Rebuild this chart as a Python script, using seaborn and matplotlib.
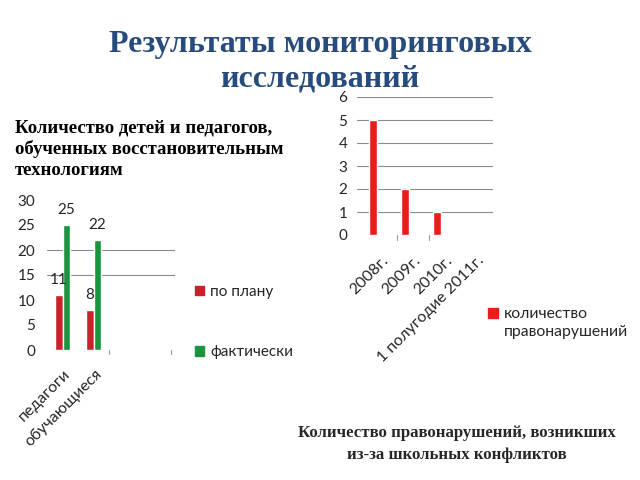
import pandas as pd
import matplotlib.pyplot as plt
import matplotlib.transforms as mtransforms
from matplotlib.patches import Patch
import seaborn as sns

# data
groups = ["педагоги", "обучающиеся"]
plan = [11, 8]
fact = [25, 22]
series_names = ["по плану", "фактически"]

years = ["2008г.", "2009г.", "2010г.", "1 полугодие 2011г."]
offences = [5, 2, 1, 0]
offence_label = "количество\nправонарушений"

red_left = "#C8232A"
green_left = "#1B9440"
red_right = "#EE1B1B"
grid_c = "#8C8C8C"

sns.set_theme(style="white")
plt.rcParams["font.family"] = ["Lato", "DejaVu Sans"]

W, H = 640, 480
fig = plt.figure(figsize=(6.4, 4.8), dpi=100)


def fx(px):
    return px / W


def fy(py):
    return 1 - py / H


serif = ["Liberation Serif", "DejaVu Serif"]

# titles and captions
fig.text(0.5, fy(52), "Результаты мониторинговых", ha="center", va="baseline",
         fontsize=23, family=serif, weight="bold", color="#264B7C")
fig.text(0.5, fy(86), "исследований", ha="center", va="baseline",
         fontsize=23, family=serif, weight="bold", color="#264B7C")

for i, line in enumerate(["Количество детей и педагогов,",
                          "обученных восстановительным",
                          "технологиям"]):
    fig.text(fx(15), fy(133 + 21 * i), line, ha="left", va="baseline",
             fontsize=13.5, family=serif, weight="bold", color="black")

fig.text(fx(457), fy(437), "Количество правонарушений, возникших", ha="center",
         va="baseline", fontsize=12.1, family=serif, weight="bold")
fig.text(fx(457), fy(459), "из-за школьных конфликтов", ha="center",
         va="baseline", fontsize=12.1, family=serif, weight="bold")

# left chart
df = pd.DataFrame({
    "group": groups * 2,
    "series": [series_names[0]] * 2 + [series_names[1]] * 2,
    "value": plan + fact,
})
ax1 = fig.add_axes([fx(47), fy(350), fx(128), 150 / H])
sns.barplot(data=df, x="group", y="value", hue="series", order=groups,
            palette=[red_left, green_left], width=0.5, saturation=1,
            legend=False, ax=ax1)
ax1.set_xlim(-0.5, 3.62)
ax1.set_ylim(0, 30)
ax1.set_yticks(range(0, 31, 5))
for v in [15, 20]:
    ax1.axhline(v, color=grid_c, lw=0.8, zorder=0)
for c in ax1.containers:
    ax1.bar_label(c, padding=6, fontsize=11)
ax1.set_xlabel("")
ax1.set_ylabel("")
ax1.tick_params(axis="y", length=0, pad=8.5, labelsize=11)
ax1.set_xticks(range(len(groups)))
ax1.set_xticklabels(groups, rotation=45, ha="right", rotation_mode="anchor",
                    fontsize=11.5)
ax1.tick_params(axis="x", length=0, pad=12)
off = mtransforms.ScaledTranslation(1 / 100, 0, fig.dpi_scale_trans)
for lab in ax1.get_xticklabels():
    lab.set_transform(lab.get_transform() + off)
for xm in [1.5, 3.5]:
    ax1.plot([xm, xm], [-0.8, 0], color="#999999", lw=0.8, clip_on=False)
sns.despine(ax=ax1, left=True, bottom=True)
handles = [Patch(color=red_left), Patch(color=green_left)]
fig.legend(handles, series_names, loc="upper left",
           bbox_to_anchor=(fx(181), fy(271)), frameon=False, fontsize=11,
           labelspacing=3.05, handlelength=0.6, handleheight=0.6,
           handletextpad=0.4)

# right chart
ax2 = fig.add_axes([fx(357), fy(235), fx(136), 138 / H])
sns.barplot(x=years, y=offences, color=red_right, width=0.22, saturation=1,
            ax=ax2)
ax2.set_xlim(-0.5, 3.75)
ax2.set_ylim(0, 6)
ax2.set_yticks(range(0, 7))
for v in range(1, 7):
    ax2.axhline(v, color=grid_c, lw=0.8, zorder=0)
ax2.tick_params(axis="y", length=0, pad=7, labelsize=11)
ax2.set_xticks(range(len(years)))
ax2.set_xticklabels(years, rotation=45, ha="right", rotation_mode="anchor",
                    fontsize=11.5)
ax2.tick_params(axis="x", length=0, pad=13)
off2 = mtransforms.ScaledTranslation(8 / 100, 0, fig.dpi_scale_trans)
for lab in ax2.get_xticklabels():
    lab.set_transform(lab.get_transform() + off2)
for xm in [0.75, 1.75]:
    ax2.plot([xm, xm], [-0.2, 0], color="#999999", lw=0.8, clip_on=False)
sns.despine(ax=ax2, left=True, bottom=True)
leg2 = fig.legend([Patch(color=red_right)], [offence_label], loc="upper left",
                  bbox_to_anchor=(fx(474), fy(293)), frameon=False,
                  handlelength=0.6, handleheight=0.6, handletextpad=0.4,
                  prop={"size": 11.3})
for t in leg2.get_texts():
    t.set_linespacing(1.35)
# put the square next to the first line, like the original
for h in leg2.legend_handles:
    h.set_y(h.get_y() + 7)

fig.savefig("out.png", dpi=100)
